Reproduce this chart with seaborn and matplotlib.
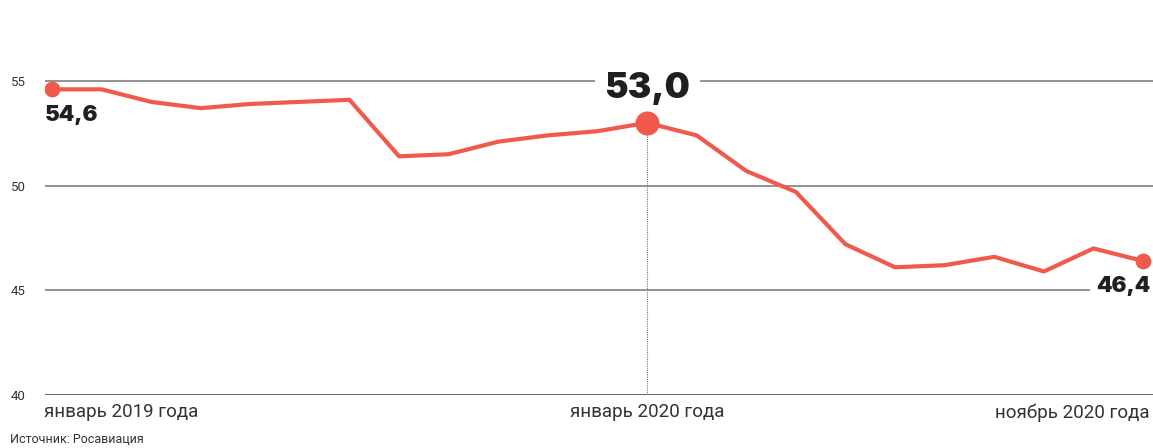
import pandas as pd
import seaborn as sns
import matplotlib.pyplot as plt

# Data, January 2019 .. November 2020
months = list(range(23))
values = [54.6, 54.6, 54.0, 53.7, 53.9, 54.0, 54.1, 51.4, 51.5, 52.1, 52.4, 52.6,
          53.0, 52.4, 50.7, 49.7, 47.2, 46.1, 46.2, 46.6, 45.9, 47.0, 46.4]
tick_pos = [0, 12, 22]
tick_labels = ['январь 2019 года', 'январь 2020 года', 'ноябрь 2020 года']
y_ticks = [40, 45, 50, 55]
source = 'Источник: Росавиация'

df = pd.DataFrame({'month': months, 'value': values})

red = '#f05a4c'
grid = '#8a8a8a'
dark = '#1f1f1f'

sns.set_theme(style='white')
plt.rcParams['font.family'] = ['Roboto', 'DejaVu Sans']
num_font = ['Inter', 'DejaVu Sans']

fig = plt.figure(figsize=(11.53, 4.48), dpi=100)
ax = fig.add_axes([45 / 1153, 53 / 448, 1108 / 1153, 335 / 448])

sns.lineplot(data=df, x='month', y='value', color=red, linewidth=3, ax=ax, zorder=3)

# gridlines
for y in y_ticks:
    ax.axhline(y, color='#5a5a5a' if y == 40 else grid, linewidth=1.3, zorder=1)

# dotted line at January 2020
peak = 12
ax.plot([peak, peak], [40, values[peak]], color='#777777', linestyle=(0, (1, 1)),
        linewidth=0.8, zorder=2)

# markers
ax.scatter([0, 22], [values[0], values[22]], s=130, color=red, zorder=6, linewidths=0)
ax.scatter([peak], [values[peak]], s=300, color=red, zorder=6, linewidths=0)

# value labels
def fmt(v):
    return f'{v:.1f}'.replace('.', ',')

ax.text(-0.14, 53.37, fmt(values[0]), fontsize=16, fontweight='black', color=dark,
        family=num_font, ha='left', va='center', zorder=5)
ax.text(peak, 54.64, fmt(values[peak]), fontsize=25.5, fontweight='black', color=dark,
        family=num_font, ha='center', va='center', zorder=5,
        bbox=dict(facecolor='white', edgecolor='none', pad=7))
ax.text(22.14, 45.22, fmt(values[22]), fontsize=16, fontweight='black', color=dark,
        family=num_font, ha='right', va='center', zorder=5,
        bbox=dict(facecolor='white', edgecolor='none', pad=4))

ax.set_xlim(-0.14, 22.2)
ax.set_ylim(40, 56)
ax.set_yticks(y_ticks)
ax.set_yticklabels([str(y) for y in y_ticks], fontsize=9.5, color='#333333')
ax.tick_params(axis='y', length=0, pad=14)

# x labels: left / centre / right aligned under their months
ax.set_xticks([])
shifts = [-8, 0, 7]
for pos, text, ha, dx in zip(tick_pos, tick_labels, ['left', 'center', 'right'], shifts):
    ax.annotate(text, xy=(pos, 0), xycoords=('data', 'axes fraction'),
                xytext=(dx, -8), textcoords='offset pixels',
                ha=ha, va='top', fontsize=13.5, color='#333333', annotation_clip=False)
ax.set_xlabel('')
ax.set_ylabel('')
sns.despine(ax=ax, left=True, bottom=True)

fig.text(10 / 1153, 1 - 439 / 448, source, fontsize=9, color='#333333', va='center')

fig.savefig('out.png', dpi=100)
